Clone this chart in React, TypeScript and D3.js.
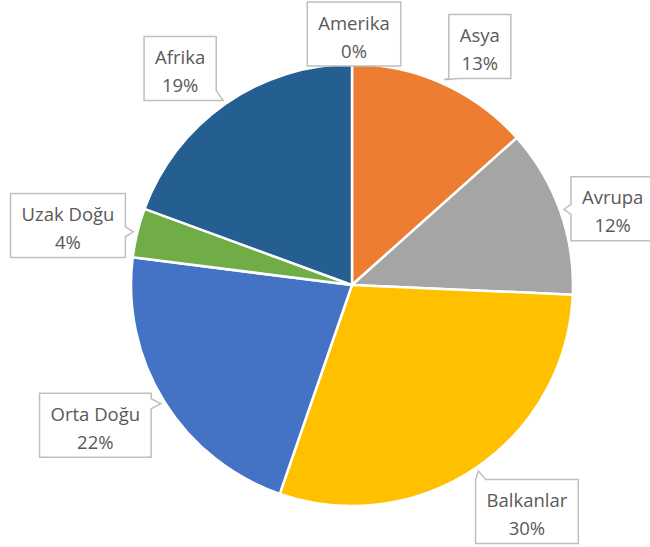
import React from 'react';
import * as d3 from 'd3';

const regions = ['Amerika', 'Asya', 'Avrupa', 'Balkanlar', 'Orta Doğu', 'Uzak Doğu', 'Afrika'];
// shares; labels show them rounded
const shares = [0, 13.4, 12.3, 29.6, 21.7, 3.6, 19.4];
const colors = ['#5B9BD5', '#ED7D31', '#A5A5A5', '#FFC000', '#4472C4', '#70AD47', '#255E91'];

// layout nudges for the callout boxes
const labelNudge: [number, number][] = [
  [2, 30], [13, 18], [-4, 18], [17, -6], [-18, -8], [-11, 7], [-11, 14],
];

const W = 650;
const H = 547;
const cx = 352;
const cy = 285;
const radius = 221;
const font = "18.5px 'Open Sans'";
const boxH = 64;
const pad = 11;

function measure(text: string) {
  const ctx = document.createElement('canvas').getContext('2d');
  if (!ctx) return text.length * 9;
  ctx.font = font;
  return ctx.measureText(text).width;
}

// callout outline: box with a small wedge pointing at (tx, ty)
function calloutPath(x0: number, y0: number, x1: number, y1: number, tx: number, ty: number) {
  const nx = Math.max(x0, Math.min(x1, tx));
  const ny = Math.max(y0, Math.min(y1, ty));
  const dists = [Math.abs(ny - y0), Math.abs(x1 - nx), Math.abs(y1 - ny), Math.abs(nx - x0)];
  let edge = dists.indexOf(Math.min(...dists));
  if (tx >= x0 && tx <= x1 && ty >= y0 && ty <= y1) edge = -1;
  const half = 5;
  const pts: [number, number][] = [];
  const cl = (v: number, a: number, b: number) => Math.max(a + half, Math.min(b - half, v));
  pts.push([x0, y0]);
  if (edge === 0) { const m = cl(nx, x0, x1); pts.push([m - half, y0], [tx, ty], [m + half, y0]); }
  pts.push([x1, y0]);
  if (edge === 1) { const m = cl(ny, y0, y1); pts.push([x1, m - half], [tx, ty], [x1, m + half]); }
  pts.push([x1, y1]);
  if (edge === 2) { const m = cl(nx, x0, x1); pts.push([m + half, y1], [tx, ty], [m - half, y1]); }
  pts.push([x0, y1]);
  if (edge === 3) { const m = cl(ny, y0, y1); pts.push([x0, m + half], [tx, ty], [x0, m - half]); }
  return 'M' + pts.map(p => p.join(',')).join('L') + 'Z';
}

export default function App() {
  const pie = d3.pie<number>().sort(null).value(d => d);
  const arcs = pie(shares);
  const arc = d3.arc<d3.PieArcDatum<number>>().innerRadius(0).outerRadius(radius);
  const labelArc = d3.arc<d3.PieArcDatum<number>>().innerRadius(radius + 60).outerRadius(radius + 60);
  const tipArc = d3.arc<d3.PieArcDatum<number>>().innerRadius(radius + 4).outerRadius(radius + 4);

  return (
    <svg width={W} height={H} style={{ position: 'absolute', left: 0, top: 0, background: '#fff' }}>
      <g transform={`translate(${cx},${cy})`}>
        {arcs.map((a, i) => (
          <path key={regions[i]} d={arc(a) || ''} fill={colors[i]} stroke="#fff" strokeWidth={2.5} strokeLinejoin="round" />
        ))}
        {arcs.map((a, i) => {
          const [lx, ly] = labelArc.centroid(a);
          const [tx, ty] = tipArc.centroid(a);
          const bx = lx + labelNudge[i][0];
          const by = ly + labelNudge[i][1];
          const pct = `${Math.round(shares[i])}%`;
          const w = Math.max(measure(regions[i]), measure(pct)) + pad * 2;
          const x0 = bx - w / 2, x1 = bx + w / 2, y0 = by - boxH / 2, y1 = by + boxH / 2;
          return (
            <g key={'lab' + i}>
              <path d={calloutPath(x0, y0, x1, y1, tx, ty)} fill="#fff" stroke="#BFBFBF" strokeWidth={1.5} />
              <text textAnchor="middle" fill="#595959" style={{ font }}>
                <tspan x={bx} y={by - 12} dominantBaseline="central">{regions[i]}</tspan>
                <tspan x={bx} y={by + 16} dominantBaseline="central">{pct}</tspan>
              </text>
            </g>
          );
        })}
      </g>
    </svg>
  );
}
